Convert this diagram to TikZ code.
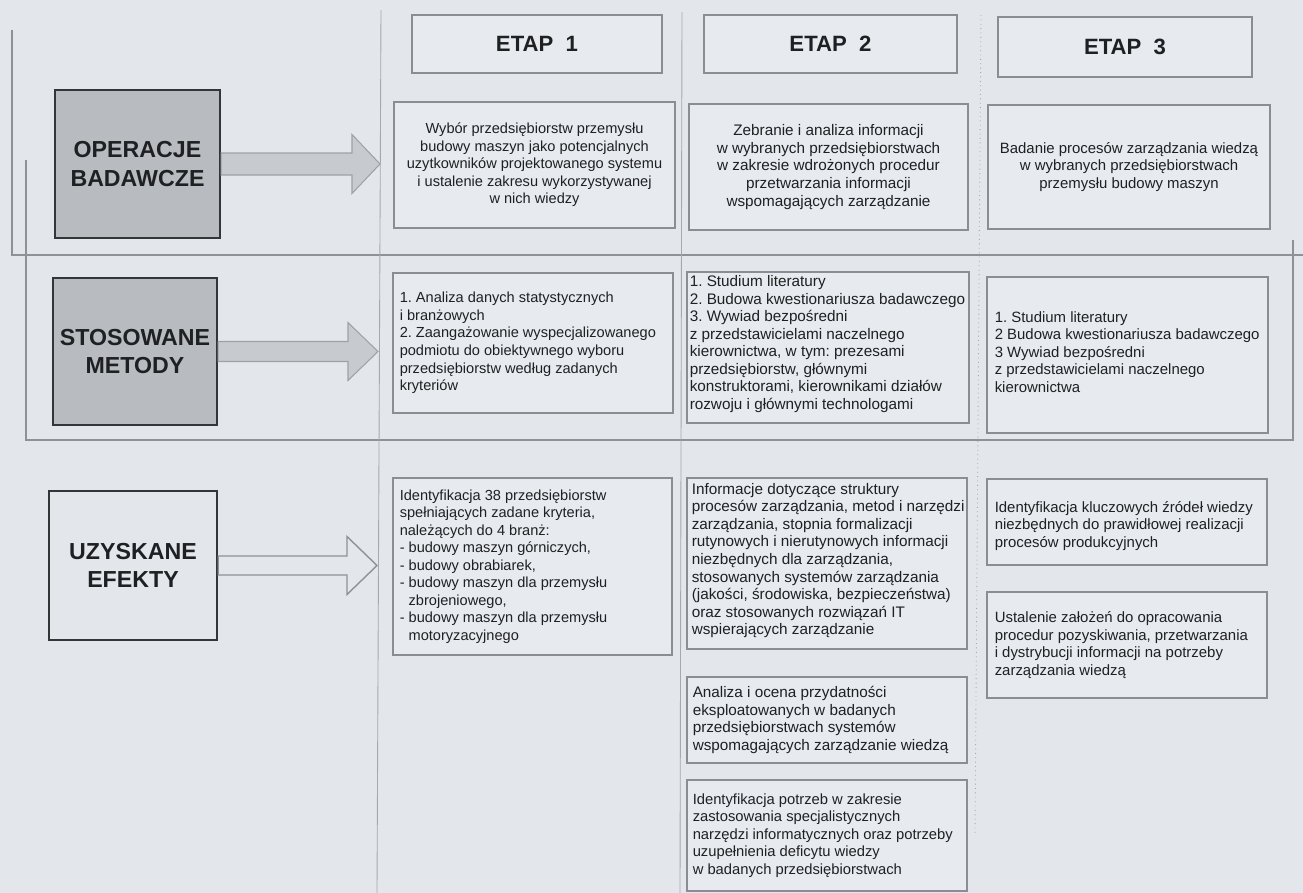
\documentclass[tikz,border=0pt]{standalone}
\usepackage{fontspec}
\setmainfont{Liberation Sans}
\frenchspacing
\usetikzlibrary{calc}

\definecolor{paper}{HTML}{E3E7EC}
\definecolor{framegray}{HTML}{8E9298}
\definecolor{boxline}{HTML}{8A8E94}
\definecolor{boxfill}{HTML}{E7EAEE}
\definecolor{labelfill}{HTML}{B8BBBF}
\definecolor{labelline}{HTML}{333537}
\definecolor{arrowfill}{HTML}{C7CACF}
\definecolor{arrowline}{HTML}{9EA2A7}
\definecolor{ink}{HTML}{1F2022}

\tikzset{
  rowlabel/.style={draw=labelline, line width=1.4pt, align=center, text=ink,
    font=\bfseries\fontsize{13.2pt}{16pt}\selectfont, inner sep=0pt},
  graylabel/.style={rowlabel, fill=labelfill},
  plainlabel/.style={rowlabel, fill=paper},
  etaphead/.style={draw=boxline, line width=0.8pt, fill=boxfill, text=ink,
    font=\bfseries\fontsize{12.6pt}{15pt}\selectfont, inner sep=0pt},
  infobox/.style={draw=boxline, line width=0.7pt, fill=boxfill, inner sep=0pt},
  infotext/.style={text=ink, font=\fontsize{8.5pt}{10pt}\selectfont, inner sep=0pt},
  colA/.style={font=\fontsize{8.3pt}{10pt}\selectfont},
  colB/.style={font=\fontsize{8.7pt}{10pt}\selectfont},
  colBs/.style={font=\fontsize{8.4pt}{10pt}\selectfont},
  colC/.style={font=\fontsize{8.5pt}{10pt}\selectfont},
  centertext/.style={infotext, align=center},
  lefttext/.style={infotext, align=left, anchor=west},
  frameline/.style={draw=framegray, line width=0.6pt},
  colline/.style={draw=framegray!80, line width=0.5pt},
  fatarrow/.style={fill=arrowfill, draw=arrowline, line width=0.6pt},
  hollowarrow/.style={fill=paper, draw=framegray, line width=0.8pt},
}

\begin{document}
\begin{tikzpicture}[x=0.02cm, y=-0.02cm]
  % page and background
  \useasboundingbox (0,0) rectangle (1303,893);
  \fill[paper] (0,0) rectangle (1303,893);

  % row frames and column separators
  \draw[frameline] (12,30) -- (12,255) -- (1303,255);
  \draw[frameline] (26,160) -- (26,440) -- (1293,440) -- (1293,240);
  \draw[colline] (381,10) -- (377,893);
  \draw[colline] (682,12) -- (680,893);
  \draw[colline, dotted] (981,15) -- (975,835);

  % row labels
  \node[graylabel, minimum width=3.30cm, minimum height=2.96cm] (op) at (137.5,164) {OPERACJE\\BADAWCZE};
  \node[graylabel, minimum width=3.28cm, minimum height=2.94cm] (st) at (135,351.5) {STOSOWANE\\METODY};
  \node[plainlabel, minimum width=3.36cm, minimum height=2.98cm] (uz) at (133,565.5) {UZYSKANE\\EFEKTY};

  % stage headers
  \node[etaphead, minimum width=5.00cm, minimum height=1.16cm] (h1) at (537,44) {ETAP~~1};
  \node[etaphead, minimum width=5.06cm, minimum height=1.16cm] (h2) at (830.5,44) {ETAP~~2};
  \node[etaphead, minimum width=5.08cm, minimum height=1.20cm] (h3) at (1125,47) {ETAP~~3};

  % block arrows from the row labels
  \coordinate (t1) at (380,164);
  \coordinate (t2) at (378,351.5);
  \coordinate (t3) at (377,565.5);
  \path[fatarrow] ($(op.east)+(0,-11)$) -- ($(t1)+(-28,-11)$) -- ($(t1)+(-28,-29.5)$) -- (t1)
     -- ($(t1)+(-28,29.5)$) -- ($(t1)+(-28,11)$) -- ($(op.east)+(0,11)$) -- cycle;
  \path[fatarrow] ($(st.east)+(0,-10)$) -- ($(t2)+(-30,-10)$) -- ($(t2)+(-30,-29)$) -- (t2)
     -- ($(t2)+(-30,29)$) -- ($(t2)+(-30,10)$) -- ($(st.east)+(0,10)$) -- cycle;
  \path[hollowarrow] ($(uz.east)+(0,-9.5)$) -- ($(t3)+(-30,-9.5)$) -- ($(t3)+(-30,-29)$) -- (t3)
     -- ($(t3)+(-30,29)$) -- ($(t3)+(-30,9.5)$) -- ($(uz.east)+(0,9.5)$) -- cycle;

  % row 1: research operations
  \node[infobox, centertext, colA, minimum width=5.62cm, minimum height=2.52cm] (a1) at (534.5,165)
    {Wybór przedsiębiorstw przemysłu\\budowy maszyn jako potencjalnych\\uzytkowników projektowanego systemu\\i ustalenie zakresu wykorzystywanej\\w nich wiedzy};
  \node[infobox, centertext, colB, minimum width=5.58cm, minimum height=2.52cm] (a2) at (828.5,167)
    {Zebranie i analiza informacji\\w wybranych przedsiębiorstwach\\w zakresie wdrożonych procedur\\przetwarzania informacji\\wspomagających zarządzanie};
  \node[infobox, centertext, colC, minimum width=5.64cm, minimum height=2.48cm] (a3) at (1129,167)
    {Badanie procesów zarządzania wiedzą\\w wybranych przedsiębiorstwach\\przemysłu budowy maszyn};

  % row 2: methods
  \node[infobox, minimum width=5.60cm, minimum height=2.80cm] (b1) at (533,343) {};
  \node[lefttext, colA] (b1t) at ([xshift=0.14cm]b1.west)
    {1. Analiza danych statystycznych\\i branżowych\\2. Zaangażowanie wyspecjalizowanego\\podmiotu do obiektywnego wyboru\\przedsiębiorstw według zadanych\\kryteriów};
  \node[infobox, minimum width=5.64cm, minimum height=3.02cm] (b2) at (828,347.5) {};
  \node[lefttext, colB] (b2t) at ([xshift=0.06cm, yshift=0.07cm]b2.west)
    {1. Studium literatury\\2. Budowa kwestionariusza badawczego\\3. Wywiad bezpośredni\\z przedstawicielami naczelnego\\kierownictwa, w tym: prezesami\\przedsiębiorstw, głównymi\\konstruktorami, kierownikami działów\\rozwoju i głównymi technologami};
  \node[infobox, minimum width=5.62cm, minimum height=3.12cm] (b3) at (1127.5,355) {};
  \node[lefttext, colC] (b3t) at ([xshift=0.16cm, yshift=0.06cm]b3.west)
    {1. Studium literatury\\2 Budowa kwestionariusza badawczego\\3 Wywiad bezpośredni\\z przedstawicielami naczelnego\\kierownictwa};

  % row 3: results
  \node[infobox, minimum width=5.58cm, minimum height=3.54cm] (c1) at (532.5,566.5) {};
  \node[lefttext, colA] (c1t) at ([xshift=0.14cm]c1.west)
    {Identyfikacja 38 przedsiębiorstw\\spełniających zadane kryteria,\\należących do 4 branż:\\- budowy maszyn górniczych,\\- budowy obrabiarek,\\- budowy maszyn dla przemysłu\\\phantom{- }zbrojeniowego,\\- budowy maszyn dla przemysłu\\\phantom{- }motoryzacyjnego};
  \node[infobox, minimum width=5.60cm, minimum height=3.42cm] (c2a) at (827,563.5) {};
  \node[lefttext, colB] (c2at) at ([xshift=0.10cm, yshift=0.06cm]c2a.west)
    {Informacje dotyczące struktury\\procesów zarządzania, metod i narzędzi\\zarządzania, stopnia formalizacji\\rutynowych i nierutynowych informacji\\niezbędnych dla zarządzania,\\stosowanych systemów zarządzania\\(jakości, środowiska, bezpieczeństwa)\\oraz stosowanych rozwiązań IT\\wspierających zarządzanie};
  \node[infobox, minimum width=5.60cm, minimum height=1.72cm] (c2b) at (827,720) {};
  \node[lefttext, colB] (c2bt) at ([xshift=0.12cm]c2b.west)
    {Analiza i ocena przydatności\\eksploatowanych w badanych\\przedsiębiorstwach systemów\\wspomagających zarządzanie wiedzą};
  \node[infobox, minimum width=5.60cm, minimum height=2.22cm] (c2c) at (827,835.5) {};
  \node[lefttext, colBs] (c2ct) at ([xshift=0.12cm]c2c.west)
    {Identyfikacja potrzeb w zakresie\\zastosowania specjalistycznych\\narzędzi informatycznych oraz potrzeby\\uzupełnienia deficytu wiedzy\\w badanych przedsiębiorstwach};
  \node[infobox, minimum width=5.60cm, minimum height=1.72cm] (c3a) at (1127,522) {};
  \node[lefttext, colC] (c3at) at ([xshift=0.16cm, yshift=-0.08cm]c3a.west)
    {Identyfikacja kluczowych źródeł wiedzy\\niezbędnych do prawidłowej realizacji\\procesów produkcyjnych};
  \node[infobox, minimum width=5.60cm, minimum height=2.12cm] (c3b) at (1127,645) {};
  \node[lefttext, colC] (c3bt) at ([xshift=0.16cm]c3b.west)
    {Ustalenie założeń do opracowania\\procedur pozyskiwania, przetwarzania\\i dystrybucji informacji na potrzeby\\zarządzania wiedzą};
\end{tikzpicture}
\end{document}
